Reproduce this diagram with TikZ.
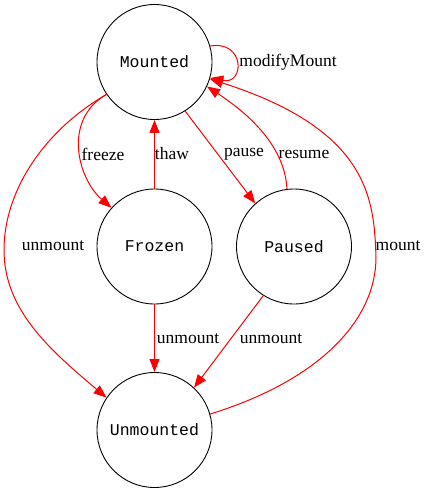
\documentclass[tikz,border=0pt]{standalone}
\usepackage{fontspec}
\setmainfont{Liberation Serif}
\newfontfamily\statefont{Liberation Mono}
\usetikzlibrary{arrows.meta}
\begin{document}
\begin{tikzpicture}[x=1pt,y=-1pt,
  state/.style={circle,draw=black,line width=0.9pt,minimum size=115pt,inner sep=0pt,font=\statefont\fontsize{16.5}{18}\selectfont},
  lbl/.style={inner sep=0pt,font=\fontsize{17.5}{20}\selectfont},
  tr/.style={draw=red,line width=1pt,-{Triangle[length=13pt,width=10pt,fill=red,color=red]}}
]
\path[use as bounding box,fill=white] (0,0) rectangle (429,493);
\node[state] (M) at (154.5,62) {Mounted};
\node[state] (F) at (154.5,246.5) {Frozen};
\node[state] (P) at (294,246.5) {Paused};
\node[state] (U) at (154.5,430) {Unmounted};

% self loop
\draw[tr] (M.16) .. controls (245,40) and (245,85) .. (M.-16);
% freeze
\draw[tr] (M.214.5) .. controls (62,120) and (78,179) .. (F.138);
% thaw
\draw[tr] (F.90) -- (M.270);
% pause
\draw[tr] (M.-58) -- (P.132.5);
% resume
\draw[tr] (P.97) .. controls (285,150) and (255,118) .. (M.-25);
% unmount left
\draw[tr] (M.214.5) .. controls (45,130) and (4,190) .. (4,250) .. controls (4,310) and (50,350) .. (U.146);
% mount
\draw[tr] (U.16) .. controls (320,380) and (376,320) .. (376,257) .. controls (374,200) and (370,130) .. (M.-17);
% frozen -> unmounted
\draw[tr] (F.270) -- (U.90);
% paused -> unmounted
\draw[tr] (P.238) -- (U.47);

\node[lbl] (l1) at (288,62) {modifyMount};
\node[lbl] (l2) at (103,154) {freeze};
\node[lbl] (l3) at (172,154) {thaw};
\node[lbl] (l4) at (244,154) {pause};
\node[lbl] (l5) at (304,154) {resume};
\node[lbl] (l6) at (53,246) {unmount};
\node[lbl] (l7) at (398,246) {mount};
\node[lbl] (l8) at (188,339) {unmount};
\node[lbl] (l9) at (271,339) {unmount};
\end{tikzpicture}
\end{document}
